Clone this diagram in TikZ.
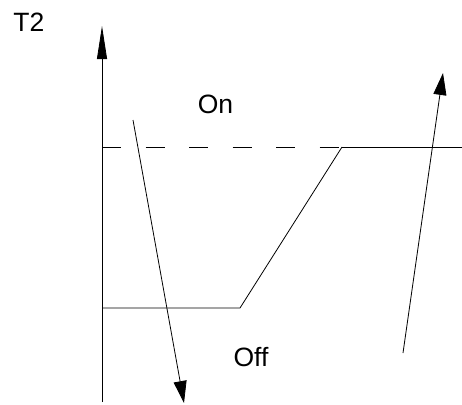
\documentclass[tikz,border=0pt]{standalone}
\usepackage{fontspec}
\setmainfont{Liberation Sans}
\usetikzlibrary{arrows.meta}

\begin{document}
\begin{tikzpicture}[x=1pt,y=-1pt,line width=0.8pt,
	tag/.style={inner sep=0pt,font=\fontsize{26.5}{30}\selectfont},
	axistip/.style={-{Triangle[length=33pt,width=10pt]}},
	movetip/.style={-{Triangle[length=22pt,width=13pt]}}]

	\useasboundingbox (0,0) rectangle (462,404);

	\coordinate (O) at (102,402);
	\coordinate (Y) at (102,26);
	\coordinate (H0) at (102,147);
	\coordinate (H1) at (342,147);
	\coordinate (H2) at (462,147);
	\coordinate (L0) at (102,308);
	\coordinate (L1) at (240,308);
	\coordinate (P) at (133,120);
	\coordinate (Q) at (184,403);
	\coordinate (R) at (403,353);
	\coordinate (S) at (443,73);

	% axis
	\draw[axistip] (O) -- (Y);

	% threshold curve
	\draw[dash pattern=on 19pt off 24.5pt] (H0) -- (H1);
	\draw (H1) -- (H2);
	\draw (L0) -- (L1) -- (H1);

	% transitions
	\draw[movetip] (P) -- (Q);
	\draw[movetip] (R) -- (S);

	\node[tag] (t2) at (28.8,22.5) {T2};
	\node[tag] (on) at (215.5,104) {On};
	\node[tag] (off) at (251,357) {Off};

\end{tikzpicture}
\end{document}
